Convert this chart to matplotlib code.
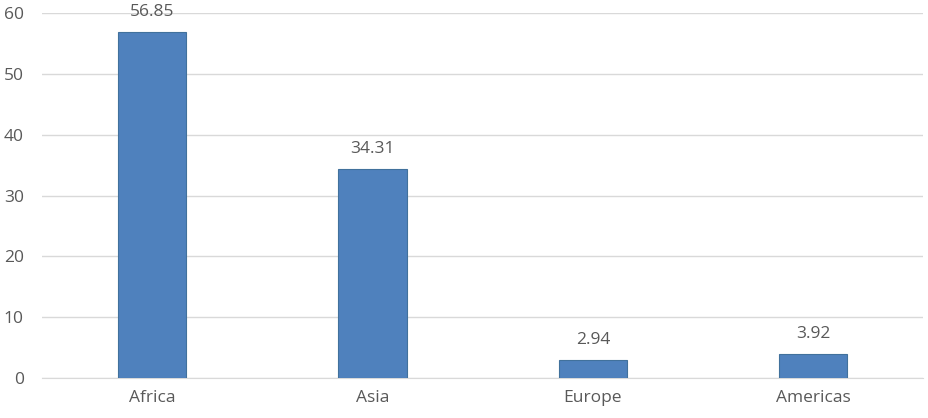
import matplotlib
matplotlib.use("Agg")
import matplotlib.pyplot as plt

# Data
regions = ["Africa", "Asia", "Europe", "Americas"]
values = [56.85, 34.31, 2.94, 3.92]
yticks = [0, 10, 20, 30, 40, 50, 60]

plt.rcParams['font.family'] = ['Open Sans', 'DejaVu Sans']
text_color = "#595959"

fig = plt.figure(figsize=(9.29, 4.18), dpi=100)
ax = fig.add_axes([0.045, 0.0957, 0.949, 0.873])

x = range(len(regions))
ax.bar(x, values, width=0.31, color="#4F81BD", edgecolor="#41719C", linewidth=0.8, zorder=3)

# value labels above bars
for xi, v in zip(x, values):
    ax.text(xi, v + 2.0, f"{v:.2f}", ha="center", va="bottom", fontsize=12.5, color=text_color)

ax.set_xlim(-0.5, len(regions) - 0.5)
ax.set_ylim(0, 60)
ax.set_yticks(yticks)
ax.set_xticks(list(x))
ax.set_xticklabels(regions)
ax.grid(axis="y", color="#D9D9D9", linewidth=1, zorder=0)
ax.tick_params(axis="both", length=0, labelsize=12.5, colors=text_color)
ax.tick_params(axis="y", pad=13)
ax.tick_params(axis="x", pad=9)
for s in ["top", "right", "left"]:
    ax.spines[s].set_visible(False)
ax.spines["bottom"].set_color("#D9D9D9")

fig.savefig("out.png", dpi=100)
